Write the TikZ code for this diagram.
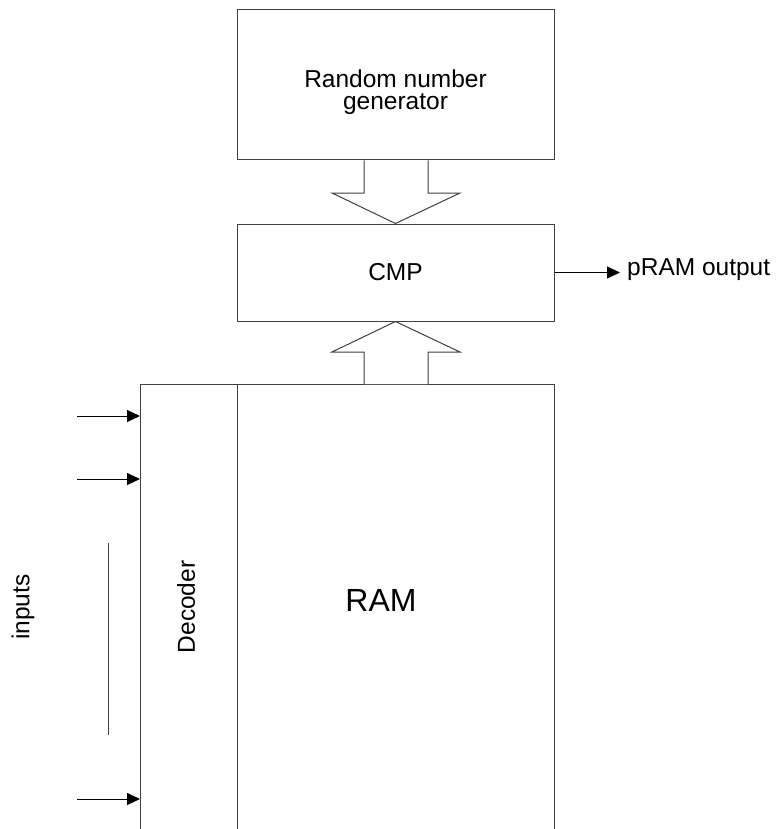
\documentclass[tikz,border=0pt]{standalone}
\usepackage{fontspec}
\setmainfont{Liberation Sans}
\usetikzlibrary{arrows.meta}

\tikzset{
  box/.style={draw=black!75, line width=1pt, minimum width=317pt, inner sep=0pt},
  lbl/.style={font=\fontsize{24.5}{22.5}\selectfont, inner sep=0pt},
  blockarrow/.style={draw=black!75, line width=1pt, fill=white},
  wire/.style={line width=1pt, -{Triangle[length=13pt,width=12pt]}},
}

\begin{document}
\begin{tikzpicture}[x=1pt, y=-1pt]
  \useasboundingbox (0,0) rectangle (776,829);

  % boxes on top
  \node[box, minimum height=150pt] (rng) at (395.5,85) {};
  \node[lbl, align=center] (rnglbl) at (395.5,92) {Random number\\generator};
  \node[box, lbl, minimum height=97pt] (cmp) at (395.5,272.5) {CMP};

  % RAM with decoder, open at the bottom
  \coordinate (decNW) at (140,384);
  \coordinate (decNE) at (237,384);
  \coordinate (ramNE) at (554,384);
  \draw[black!75, line width=1pt] (140,829) -- (decNW) -- (ramNE) -- (554,829);
  \draw[black!75, line width=1pt] (decNE) -- (237,829);
  \node[lbl, rotate=90] (dec) at (186,607) {Decoder};
  \node[font=\fontsize{32}{36}\selectfont, inner sep=0pt] (ram) at (381,600.5) {RAM};

  % block arrows
  \draw[blockarrow] (364,0 |- rng.south) -- (364,193) -- (332,193) -- (cmp.north)
    -- (460,193) -- (428,193) -- (428,0 |- rng.south);
  \draw[blockarrow] (364,0 |- decNW) -- (364,352) -- (332,352) -- (cmp.south)
    -- (460,352) -- (428,352) -- (428,0 |- decNW);

  % output
  \coordinate (outtip) at (620,0 |- cmp.east);
  \draw[wire] (cmp.east) -- (outtip);
  \node[lbl, anchor=base west] (outlbl) at (627,275) {pRAM output};

  % inputs
  \foreach \y [count=\i] in {416,479,799} {
    \coordinate (in\i) at (77,\y);
    \draw[wire] (in\i) -- (in\i -| decNW);
  }
  \coordinate (dotsA) at (108,543);
  \coordinate (dotsB) at (108,735);
  \draw[black!75, line width=1pt] (dotsA) -- (dotsB);
  \node[lbl, rotate=90] (inlbl) at (23,607) {inputs};
\end{tikzpicture}
\end{document}
